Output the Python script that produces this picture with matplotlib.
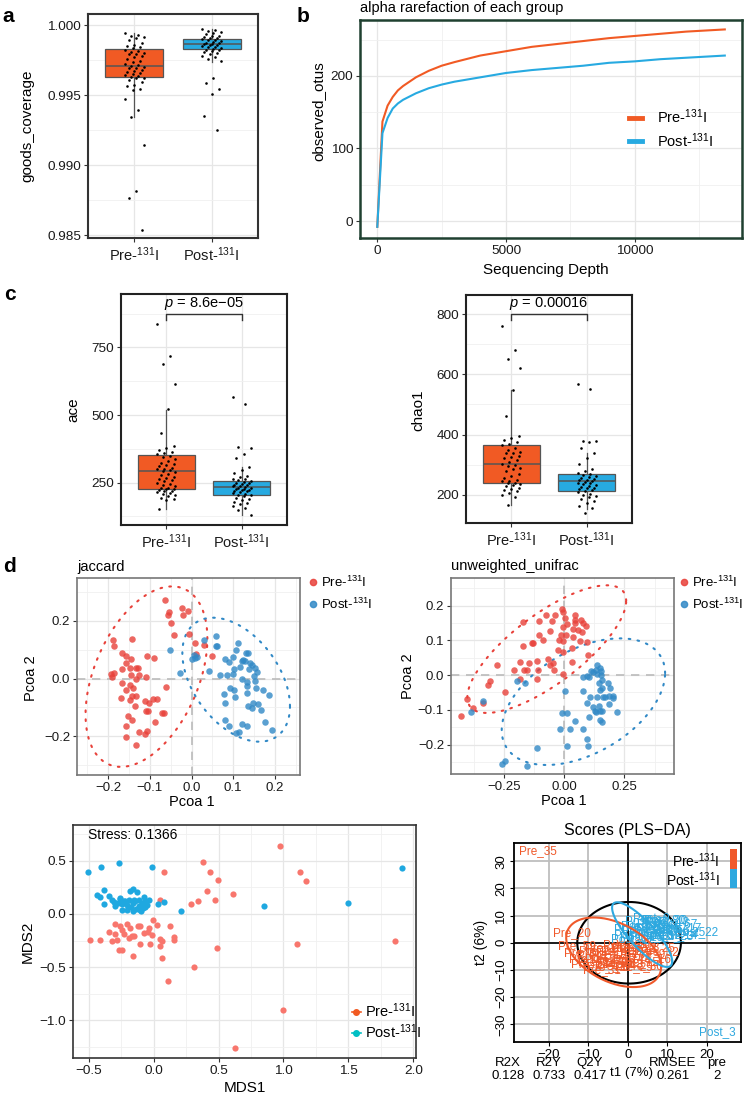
import numpy as np
import matplotlib.pyplot as plt
from matplotlib.lines import Line2D
from matplotlib.patches import Rectangle

W, H = 744, 1095

plt.rcParams["font.family"] = ["Liberation Sans", "DejaVu Sans"]
plt.rcParams["mathtext.fontset"] = "custom"
plt.rcParams["mathtext.rm"] = "Liberation Sans"
plt.rcParams["mathtext.it"] = "Liberation Sans:italic"
plt.rcParams["mathtext.bf"] = "Liberation Sans:bold"

PRE = r"Pre-$^{131}$I"
POST = r"Post-$^{131}$I"

ORANGE = "#F15A24"
BLUE = "#27AAE1"

# ---------------- panel a: goods coverage ----------------
# box stats: q1, median, q3, lower whisker, upper whisker
GOODS_BOX_PRE = [0.99629, 0.99705, 0.99831, 0.99345, 0.99940]
GOODS_BOX_POST = [0.99826, 0.99862, 0.99898, 0.99738, 0.99975]
GOODS_PRE = [0.99940, 0.99930, 0.99925, 0.99915, 0.99905, 0.99890, 0.99875, 0.99860,
             0.99850, 0.99845, 0.99835, 0.99825, 0.99815, 0.99810, 0.99800, 0.99795,
             0.99790, 0.99780, 0.99770, 0.99760, 0.99745, 0.99735, 0.99725, 0.99715,
             0.99705, 0.99700, 0.99695, 0.99690, 0.99680, 0.99670, 0.99665, 0.99660,
             0.99650, 0.99640, 0.99635, 0.99630, 0.99625, 0.99620, 0.99610, 0.99595,
             0.99570, 0.99565, 0.99540, 0.99535, 0.99475, 0.99395, 0.99345, 0.99140,
             0.98815, 0.98765, 0.98535]
GOODS_POST = [0.99975, 0.99965, 0.99955, 0.99950, 0.99940, 0.99935, 0.99925, 0.99920,
              0.99915, 0.99910, 0.99905, 0.99900, 0.99895, 0.99890, 0.99885, 0.99880,
              0.99875, 0.99870, 0.99865, 0.99862, 0.99860, 0.99855, 0.99850, 0.99845,
              0.99840, 0.99835, 0.99830, 0.99825, 0.99820, 0.99815, 0.99810, 0.99800,
              0.99790, 0.99780, 0.99770, 0.99760, 0.99745, 0.99625, 0.99585, 0.99540,
              0.99505, 0.99350, 0.99250]

# ---------------- panel b: rarefaction ----------------
DEPTH = [0, 200, 400, 600, 800, 1000, 1500, 2000, 2500, 3000, 4000, 5000, 6000, 7000,
         8000, 9000, 10000, 11000, 12000, 13500]
OTUS_PRE = [-8, 137, 159, 171, 180, 186, 198, 207, 214, 219, 228, 234, 240, 244,
            248, 252, 255, 258, 261, 264]
OTUS_POST = [-8, 121, 142, 155, 162, 167, 176, 183, 188, 192, 198, 204, 208, 211,
             214, 218, 220, 223, 225, 228]

# ---------------- panel c: ace / chao1 ----------------
ACE_BOX_PRE = [226.7, 294, 351.4, 151.5, 519]
ACE_BOX_POST = [204.4, 233, 255, 130, 309]
ACE_PRE = [838, 720, 690, 615, 522, 433, 386, 378, 370, 365, 361, 356, 350, 345, 338,
           330, 322, 318, 315, 310, 305, 302, 300, 296, 292, 288, 283, 278, 272, 266,
           262, 260, 255, 250, 245, 240, 236, 232, 230, 228, 225, 222, 220, 218, 215,
           212, 208, 204, 199, 193, 190, 186, 152]
ACE_POST = [566, 542, 381, 378, 356, 342, 309, 298, 285, 275, 270, 265, 262, 258, 255,
            252, 250, 247, 245, 242, 240, 238, 236, 234, 232, 230, 228, 226, 224, 222,
            220, 218, 215, 212, 209, 206, 203, 199, 195, 190, 185, 180, 175, 170, 164,
            155, 148, 130]
ACE_P = "8.6e\u221205"

CHAO_BOX_PRE = [239, 303, 364.5, 164.5, 547]
CHAO_BOX_POST = [214, 244, 269, 152.5, 339]
CHAO_PRE = [762, 682, 650, 620, 548, 462, 394, 388, 382, 376, 370, 364, 356, 348, 342,
            340, 338, 330, 325, 322, 315, 308, 302, 300, 296, 290, 285, 278, 270, 262,
            255, 248, 245, 244, 240, 238, 236, 232, 228, 224, 220, 216, 212, 207, 200,
            194, 165]
CHAO_POST = [568, 551, 380, 379, 375, 355, 340, 322, 302, 285, 278, 272, 268, 265, 262,
             258, 255, 252, 250, 248, 245, 243, 240, 238, 236, 233, 230, 227, 224, 221,
             218, 215, 212, 208, 204, 200, 196, 192, 186, 180, 172, 163, 156, 139]
CHAO_P = "0.00016"

# ---------------- panel d: jaccard PCoA ----------------
JAC_PRE_X = [-0.064, -0.024, -0.054, -0.056, -0.020, -0.008, -0.048, -0.042, -0.006, -0.188,
             -0.142, 0.008, 0.030, 0.010, 0.048, -0.186, -0.166, -0.158, -0.144, -0.106,
             -0.090, -0.156, -0.166, -0.148, -0.132, -0.128, -0.192, -0.186, -0.190, -0.146,
             -0.126, -0.108, -0.132, -0.167, -0.148, -0.158, -0.140, -0.062, -0.168, -0.142,
             -0.134, -0.148, -0.136, -0.112, -0.092, -0.082, -0.102, -0.108, -0.104, -0.070,
             -0.066, -0.152, -0.142, -0.088, -0.156, -0.126, -0.106, -0.112, -0.156, -0.132]
JAC_PRE_Y = [0.270, 0.244, 0.228, 0.221, 0.218, 0.233, 0.192, 0.149, 0.155, 0.134,
             0.136, 0.121, 0.115, 0.084, 0.077, 0.113, 0.089, 0.077, 0.069, 0.079,
             0.070, 0.054, 0.034, 0.038, 0.038, 0.038, 0.014, 0.020, 0.006, 0.011,
             0.011, 0.006, -0.003, -0.015, -0.021, -0.038, -0.032, -0.029, -0.066, -0.061,
             -0.059, -0.075, -0.095, -0.077, -0.069, -0.069, -0.084, -0.113, -0.113, -0.118,
             -0.118, -0.130, -0.144, -0.149, -0.164, -0.184, -0.180, -0.192, -0.203, -0.230]
JAC_POST_X = [-0.052, -0.028, 0.002, 0.006, 0.012, 0.008, 0.030, 0.042, 0.058, 0.058,
              0.060, 0.068, 0.081, 0.090, 0.100, 0.102, 0.111, 0.106, 0.086, 0.100,
              0.116, 0.120, 0.124, 0.128, 0.130, 0.136, 0.140, 0.138, 0.146, 0.152,
              0.156, 0.150, 0.121, 0.132, 0.134, 0.152, 0.154, 0.172, 0.186, 0.092,
              0.102, 0.078, 0.104, 0.134, 0.080, 0.136, 0.148, 0.159, 0.166, 0.146,
              0.080, 0.090, 0.122, 0.134, 0.114, 0.176, 0.192, 0.106]
JAC_POST_Y = [0.100, 0.020, 0.067, 0.080, 0.075, 0.072, 0.132, 0.025, 0.146, 0.113,
              0.113, 0.011, 0.066, 0.057, 0.075, 0.034, 0.121, 0.098, 0.011, 0.014,
              0.040, 0.060, 0.063, 0.060, 0.089, 0.089, 0.052, 0.034, 0.046, 0.038,
              0.023, 0.008, -0.002, -0.011, -0.026, -0.009, -0.032, -0.038, -0.057, -0.034,
              -0.038, -0.054, -0.063, -0.049, -0.084, -0.095, -0.086, -0.089, -0.107, -0.103,
              -0.144, -0.164, -0.157, -0.164, -0.184, -0.149, -0.176, -0.187]
# ellipse: centre x, centre y, half-width, half-height, correlation
JAC_ELL_PRE = [-0.108, 0.0065, 0.146, 0.3115, 0.42]
JAC_ELL_POST = [0.107, -0.004, 0.129, 0.214, -0.43]

# ---------------- panel d: unweighted unifrac PCoA ----------------
UNI_PRE_X = [-0.011, -0.039, -0.007, 0.003, -0.076, -0.053, 0.044, 0.042, 0.068, 0.044,
             0.079, 0.090, 0.058, 0.063, 0.035, -0.007, -0.014, 0.007, -0.021, -0.007,
             0.035, 0.072, 0.010, -0.174, -0.136, -0.132, -0.104, -0.106, -0.060, -0.174,
             -0.088, -0.007, -0.028, 0.096, 0.099, 0.033, -0.067, -0.060, -0.049, -0.042,
             0.031, -0.113, -0.146, -0.111, -0.115, -0.185, -0.168, -0.156, -0.211, -0.282,
             -0.310, -0.317, -0.247, -0.404, -0.382, -0.432, -0.338, -0.185, -0.008]
UNI_PRE_Y = [0.192, 0.173, 0.183, 0.165, 0.173, 0.157, 0.173, 0.149, 0.159, 0.159,
             0.151, 0.141, 0.130, 0.099, 0.132, 0.139, 0.115, 0.115, 0.101, 0.098,
             0.110, 0.125, 0.147, 0.154, 0.093, 0.094, 0.157, 0.115, 0.128, 0.085,
             0.101, 0.067, 0.072, 0.096, 0.058, 0.077, 0.046, 0.029, 0.036, 0.016,
             0.038, 0.041, 0.034, 0.016, -0.012, 0.038, 0.016, 0.016, 0.016, 0.029,
             -0.016, -0.029, -0.049, -0.068, -0.096, -0.117, -0.080, -0.012, 0.003]
UNI_POST_X = [0.1375, 0.149, 0.132, 0.121, 0.110, 0.151, 0.135, 0.093, 0.103, 0.156,
              0.181, 0.142, 0.156, 0.190, 0.149, 0.169, 0.185, 0.201, 0.204, 0.1875,
              0.160, 0.135, 0.107, 0.093, 0.121, 0.143, 0.156, 0.132, 0.149, 0.218,
              0.104, 0.128, 0.146, 0.157, 0.079, 0.003, -0.011, 0.0125, 0.042, -0.018,
              0.024, 0.079, 0.093, 0.100, 0.010, -0.1125, -0.157, -0.247, -0.261, -0.389,
              -0.340, -0.196, -0.164, 0.076, 0.151]
UNI_POST_Y = [0.029, 0.022, 0.016, 0.010, 0.012, 0.000, 0.003, -0.002, -0.005, -0.014,
              -0.022, -0.024, -0.036, -0.038, -0.043, -0.062, -0.061, -0.061, -0.067, -0.084,
              -0.064, -0.064, -0.062, -0.080, -0.091, -0.089, -0.104, -0.106, -0.104, -0.106,
              -0.122, -0.104, -0.128, -0.134, -0.045, -0.045, -0.110, -0.110, -0.132, -0.154,
              -0.154, -0.154, -0.185, -0.205, -0.205, -0.209, -0.262, -0.248, -0.255, -0.106,
              -0.074, -0.016, -0.022, -0.005, 0.012]
UNI_ELL_PRE = [-0.0735, 0.075, 0.3305, 0.184, 0.755]
UNI_ELL_POST = [0.079, -0.0765, 0.340, 0.1825, 0.45]

# ---------------- NMDS ----------------
NMDS_POST_X = [-0.505, -0.403, -0.269, -0.013, -0.436, -0.415, -0.385, -0.385, -0.346, -0.321,
               -0.308, -0.295, -0.277, -0.262, -0.244, -0.231, -0.241, -0.218, -0.205, -0.192,
               -0.179, -0.174, -0.159, -0.159, -0.159, -0.141, -0.133, -0.128, -0.115, -0.113,
               -0.103, -0.090, -0.082, -0.077, -0.064, -0.064, -0.038, -0.051, -0.095, -0.154,
               -0.205, -0.256, 0.038, 0.082, 0.213, 0.851, 1.500, 1.910]
NMDS_POST_Y = [0.392, 0.445, 0.479, 0.439, 0.182, 0.160, 0.222, 0.097, 0.172, 0.135,
               0.110, 0.078, 0.103, 0.147, 0.097, 0.119, 0.041, 0.125, 0.088, 0.135,
               0.213, 0.066, 0.235, 0.103, 0.025, 0.119, 0.047, 0.204, 0.135, 0.078,
               0.034, 0.103, 0.056, 0.160, 0.119, 0.066, 0.135, 0.088, 0.025, 0.135,
               0.041, 0.141, 0.094, 0.116, 0.025, 0.072, 0.103, 0.432]
NMDS_PRE_X = [0.077, 0.377, 0.433, 0.497, 0.413, 0.472, 0.610, 0.290, 0.344, 0.046,
              0.977, 1.126, 1.172, 1.862, 1.105, 0.487, 0.315, -0.295, -0.256, -0.244,
              -0.205, -0.179, -0.167, -0.295, -0.346, -0.410, -0.487, -0.321, -0.269, -0.244,
              -0.282, -0.154, -0.103, -0.108, -0.026, -0.038, -0.005, 0.026, 0.046, 0.051,
              0.064, 0.123, 0.154, 0.159, 0.062, -0.159, -0.226, -0.192, -0.046, -0.013,
              -0.077, -0.123, 0.115, 1.000, 0.628]
NMDS_PRE_Y = [0.395, 0.489, 0.395, 0.320, 0.216, 0.128, 0.185, 0.094, 0.119, 0.128,
              0.642, 0.395, 0.310, -0.251, -0.282, -0.316, -0.501, -0.094, -0.116, -0.147,
              -0.094, -0.132, -0.204, -0.185, -0.169, -0.247, -0.244, -0.257, -0.335, -0.341,
              -0.247, -0.210, -0.110, -0.282, -0.282, -0.132, -0.060, -0.100, -0.235, -0.298,
              -0.257, -0.110, -0.216, -0.247, -0.414, -0.392, -0.185, -0.226, -0.172, -0.194,
              -0.179, -0.110, -0.633, -0.900, -1.260]
NMDS_STRESS = "0.1366"

# ---------------- PLS-DA ----------------
PLS_PRE_NAMES = ["Pre_35", "Pre_20", "Pre_59", "Pre_33", "Pre_43", "Pre_1", "Pre_2", "Pre_4",
                 "Pre_5", "Pre_6", "Pre_7", "Pre_8", "Pre_9", "Pre_10", "Pre_11", "Pre_12",
                 "Pre_13", "Pre_14", "Pre_15", "Pre_16", "Pre_17", "Pre_18", "Pre_19", "Pre_21",
                 "Pre_22", "Pre_23", "Pre_24", "Pre_25", "Pre_26", "Pre_27", "Pre_28", "Pre_29",
                 "Pre_30", "Pre_31", "Pre_32"]
PLS_PRE_T1 = [-22.8, -14.2, -12.8, -11.5, -5.5, -9.0, -7.0, -4.0, -2.0, 0.0, 2.0, 4.0, 5.5,
              -6.0, -8.0, -3.0, -1.0, 1.0, 3.0, 6.0, -10.0, -5.0, -2.0, 0.5, 2.5, -4.5, -7.5,
              7.0, -1.5, -3.5, -9.5, 1.5, 4.0, -6.5, 8.0]
PLS_PRE_T2 = [33.6, 3.4, -1.2, -3.9, -9.0, -4.5, -6.0, -3.0, -5.5, -2.0, -4.0, -1.5, -4.0,
              -2.0, -7.0, -7.5, -8.0, -6.5, -7.0, -6.0, -6.0, -4.5, -3.0, -0.5, -2.0, -6.5,
              -3.0, -2.0, -1.0, -8.5, -8.0, -9.0, -8.5, -10.0, -3.5]
PLS_POST_NAMES = ["Post_3", "Post_22", "Post_80", "Post_67", "Post_1", "Post_2", "Post_4",
                  "Post_5", "Post_6", "Post_8", "Post_9", "Post_10", "Post_11", "Post_12",
                  "Post_13", "Post_14", "Post_15", "Post_16", "Post_17", "Post_18", "Post_19",
                  "Post_20", "Post_21", "Post_23", "Post_24", "Post_25"]
PLS_POST_T1 = [22.7, 17.4, 9.0, 12.0, 3.0, 5.0, 7.0, 9.0, 11.0, 4.0, 6.0, 2.0, 1.0, 8.0,
               10.0, 12.0, 3.5, 6.0, 13.0, 5.0, 7.5, 9.5, 2.0, 11.0, 4.0, 14.0]
PLS_POST_T2 = [-32.8, 3.8, 8.5, 6.8, 6.0, 4.0, 7.0, 5.5, 4.5, 8.0, 9.0, 3.0, 1.5, 3.0,
               7.5, 3.0, 2.0, 2.5, 5.5, 6.0, 5.0, 8.5, 5.0, 2.5, 4.5, 4.0]
PLS_ELL_ALL = [0.3, 0.0, 13.1, 15.0, 0.0]
PLS_ELL_PRE = [-3.6, -3.5, 12.0, 12.8, -0.42]
PLS_ELL_POST = [3.6, 3.0, 7.6, 11.9, -0.83]
PLS_METRIC_NAMES = ["R2X", "R2Y", "Q2Y", "RMSEE", "pre"]
PLS_METRIC_VALUES = ["0.128", "0.733", "0.417", "0.261", "2"]
PLS_T1_LABEL = "t1 (7%)"
PLS_T2_LABEL = "t2 (6%)"

fig = plt.figure(figsize=(W / 100, H / 100), dpi=100)


def px_axes(l, t, r, b):
    return fig.add_axes([l / W, 1 - b / H, (r - l) / W, (b - t) / H])


def ftext(x, y, s, **kw):
    kw.setdefault("ha", "center")
    kw.setdefault("va", "center")
    fig.text(x / W, 1 - y / H, s, **kw)


def gg_style(ax, edge="#333333", lw=1.2, size=9.7):
    ax.set_facecolor("white")
    for s in ax.spines.values():
        s.set_color(edge)
        s.set_linewidth(lw)
    ax.grid(True, which="major", color="#E6E6E6", lw=0.9)
    ax.grid(True, which="minor", color="#F0F0F0", lw=0.6)
    ax.set_axisbelow(True)
    ax.tick_params(which="major", length=3, width=0.8, color="#333333",
                   labelsize=size, labelcolor="#1a1a1a", pad=2)
    ax.tick_params(which="minor", length=0)


def jitter(n, width=0.12):
    k = np.arange(n)
    return ((k * 7) % 11 - 5) / 5 * width


def box_panel(ax, boxes, groups):
    stats = [dict(q1=b[0], med=b[1], q3=b[2], whislo=b[3], whishi=b[4], label="")
             for b in boxes]
    res = ax.bxp(stats, positions=[1, 2], widths=0.75, patch_artist=True,
                 showfliers=False, showcaps=False,
                 boxprops=dict(lw=0.9, edgecolor="#555555"),
                 medianprops=dict(color="#555555", lw=1.1),
                 whiskerprops=dict(color="#555555", lw=0.9))
    for patch, c in zip(res["boxes"], [ORANGE, BLUE]):
        patch.set_facecolor(c)
    for i, vals in enumerate(groups):
        ax.scatter(1 + i + jitter(len(vals)), vals, s=3.5, color="black", zorder=5, lw=0)
    ax.set_xlim(0.4, 2.6)
    ax.set_xticks([1, 2])
    ax.set_xticks([], minor=True)
    ax.set_xticklabels([PRE, POST], fontsize=10.5)


def ellipse(ax, params, color, **kw):
    cx, cy, rx, ry, rho = params
    t = np.linspace(0, 2 * np.pi, 200)
    x = cx + rx * np.cos(t)
    y = cy + ry * (rho * np.cos(t) + np.sqrt(1 - rho ** 2) * np.sin(t))
    ax.plot(x, y, color=color, **kw)


# ---------------- a ----------------
ax = px_axes(88, 14, 258, 238)
gg_style(ax, lw=1.5)
box_panel(ax, [GOODS_BOX_PRE, GOODS_BOX_POST], [GOODS_PRE, GOODS_POST])
ax.set_ylim(0.98479, 1.00079)
ax.set_yticks([0.985, 0.990, 0.995, 1.000])
ax.set_yticks([0.9875, 0.9925, 0.9975], minor=True)
ax.set_yticklabels(["0.985", "0.990", "0.995", "1.000"])
ftext(27, 126, "goods_coverage", rotation=90, fontsize=11)
ftext(8, 16, "a", fontsize=15, fontweight="bold")

# ---------------- b ----------------
ax = px_axes(360, 20, 742, 238)
gg_style(ax, edge="#1F4030", lw=1.8)
ax.plot(DEPTH, OTUS_PRE, color=ORANGE, lw=1.5, label=PRE)
ax.plot(DEPTH, OTUS_POST, color=BLUE, lw=1.5, label=POST)
ax.set_xlim(-672, 14168)
ax.set_ylim(-23.4, 277)
ax.set_xticks([0, 5000, 10000])
ax.set_xticks([2500, 7500, 12500], minor=True)
ax.set_yticks([0, 100, 200])
ax.set_yticks([50, 150, 250], minor=True)
leg = ax.legend(loc="upper left", bbox_to_anchor=(0.67, 0.66), frameon=False,
                fontsize=10.5, handlelength=0.9, handletextpad=1.0, labelspacing=0.35)
for h in leg.get_lines():
    h.set_linewidth(3.5)
ftext(360, 8, "alpha rarefaction of each group", ha="left", fontsize=10.5)
ftext(318, 111, "observed_otus", rotation=90, fontsize=11)
ftext(546, 270, "Sequencing Depth", fontsize=11)
ftext(303, 16, "b", fontsize=15, fontweight="bold")

# ---------------- c: ace ----------------
ax = px_axes(121, 294, 287, 525)
gg_style(ax, edge="#222222", lw=1.5)
box_panel(ax, [ACE_BOX_PRE, ACE_BOX_POST], [ACE_PRE, ACE_POST])
ax.set_ylim(93.3, 947.8)
ax.set_yticks([250, 500, 750])
ax.set_yticks([125, 375, 625, 875], minor=True)
ax.plot([1, 1, 2, 2], [852, 874, 874, 852], color="#333333", lw=1.0)
ax.text(1.5, 880, r"$p$ = " + ACE_P, ha="center", va="bottom", fontsize=10.5)
ftext(73, 410, "ace", rotation=90, fontsize=11)
ftext(10, 295, "c", fontsize=15, fontweight="bold")

# ---------------- c: chao1 ----------------
ax = px_axes(466, 295, 632, 523)
gg_style(ax, edge="#222222", lw=1.5)
box_panel(ax, [CHAO_BOX_PRE, CHAO_BOX_POST], [CHAO_PRE, CHAO_POST])
ax.set_ylim(106, 864)
ax.set_yticks([200, 400, 600, 800])
ax.set_yticks([300, 500, 700], minor=True)
ax.plot([1, 1, 2, 2], [781, 800, 800, 781], color="#333333", lw=1.0)
ax.text(1.5, 806, r"$p$ = " + CHAO_P, ha="center", va="bottom", fontsize=10.5)
ftext(418, 410, "chao1", rotation=90, fontsize=11)

# ---------------- d: jaccard ----------------
RED_D = "#E8413A"
BLUE_D = "#3189C6"
ax = px_axes(77, 578, 300, 775)
gg_style(ax, edge="#777777", lw=1.2, size=9.5)
ax.axhline(0, color="#BBBBBB", lw=1.2, ls=(0, (5, 4)), zorder=1)
ax.axvline(0, color="#BBBBBB", lw=1.2, ls=(0, (5, 4)), zorder=1)
ax.scatter(JAC_PRE_X, JAC_PRE_Y, s=22, color=RED_D, alpha=0.8, lw=0, zorder=3)
ax.scatter(JAC_POST_X, JAC_POST_Y, s=22, color=BLUE_D, alpha=0.8, lw=0, zorder=3)
ellipse(ax, JAC_ELL_PRE, RED_D, lw=1.5, ls=(0, (0.8, 3.5)), dash_capstyle="round")
ellipse(ax, JAC_ELL_POST, BLUE_D, lw=1.5, ls=(0, (0.8, 3.5)), dash_capstyle="round")
ax.set_xlim(-0.2745, 0.26)
ax.set_ylim(-0.333, 0.347)
ax.set_xticks([-0.2, -0.1, 0.0, 0.1, 0.2])
ax.set_xticks([-0.25, -0.15, -0.05, 0.05, 0.15, 0.25], minor=True)
ax.set_xticklabels(["\u22120.2", "\u22120.1", "0.0", "0.1", "0.2"])
ax.set_yticks([-0.2, 0.0, 0.2])
ax.set_yticks([-0.3, -0.1, 0.1, 0.3], minor=True)
ax.set_yticklabels(["\u22120.2", "0.0", "0.2"])
hd = [Line2D([], [], ls="", marker="o", ms=4.5, color=RED_D, alpha=0.85),
      Line2D([], [], ls="", marker="o", ms=4.5, color=BLUE_D, alpha=0.85)]
ax.legend(hd, [PRE, POST], loc="upper left", bbox_to_anchor=(1.03, 1.03), frameon=False,
          fontsize=9.5, handlelength=0.5, handletextpad=0.35, labelspacing=0.5,
          borderaxespad=0.0, borderpad=0.2)
ftext(77, 567, "jaccard", ha="left", fontsize=10.5)
ftext(192, 802, "Pcoa 1", fontsize=10.5)
ftext(31, 678, "Pcoa 2", rotation=90, fontsize=10.5)
ftext(10, 567, "d", fontsize=15, fontweight="bold")

# ---------------- d: unweighted unifrac ----------------
ax = px_axes(451, 578, 674, 774)
gg_style(ax, edge="#777777", lw=1.2, size=9.5)
ax.axhline(0, color="#BBBBBB", lw=1.2, ls=(0, (5, 4)), zorder=1)
ax.axvline(0, color="#BBBBBB", lw=1.2, ls=(0, (5, 4)), zorder=1)
ax.scatter(UNI_PRE_X, UNI_PRE_Y, s=22, color=RED_D, alpha=0.8, lw=0, zorder=3)
ax.scatter(UNI_POST_X, UNI_POST_Y, s=22, color=BLUE_D, alpha=0.8, lw=0, zorder=3)
ellipse(ax, UNI_ELL_PRE, RED_D, lw=1.5, ls=(0, (0.8, 3.5)), dash_capstyle="round")
ellipse(ax, UNI_ELL_POST, BLUE_D, lw=1.5, ls=(0, (0.8, 3.5)), dash_capstyle="round")
ax.set_xlim(-0.472, 0.456)
ax.set_ylim(-0.285, 0.280)
ax.set_xticks([-0.25, 0.0, 0.25])
ax.set_xticks([-0.375, -0.125, 0.125, 0.375], minor=True)
ax.set_xticklabels(["\u22120.25", "0.00", "0.25"])
ax.set_yticks([-0.2, -0.1, 0.0, 0.1, 0.2])
ax.set_yticks([-0.25, -0.15, -0.05, 0.05, 0.15, 0.25], minor=True)
ax.set_yticklabels(["\u22120.2", "\u22120.1", "0.0", "0.1", "0.2"])
ax.legend(hd, [PRE, POST], loc="upper left", bbox_to_anchor=(1.02, 1.03), frameon=False,
          fontsize=9.5, handlelength=0.5, handletextpad=0.35, labelspacing=0.5,
          borderaxespad=0.0, borderpad=0.2)
ftext(451, 566, "unweighted_unifrac", ha="left", fontsize=10.5)
ftext(564, 801, "Pcoa 1", fontsize=10.5)
ftext(408, 676, "Pcoa 2", rotation=90, fontsize=10.5)

# ---------------- NMDS ----------------
ax = px_axes(73, 825, 416, 1058)
gg_style(ax, edge="#333333", lw=1.2, size=9.7)
ax.scatter(NMDS_PRE_X, NMDS_PRE_Y, s=20, color="#F8766D", lw=0, zorder=3)
ax.scatter(NMDS_POST_X, NMDS_POST_Y, s=20, color="#1FA8E0", lw=0, zorder=3)
ax.set_xlim(-0.62, 2.02)
ax.set_ylim(-1.353, 0.836)
ax.set_xticks([-0.5, 0.0, 0.5, 1.0, 1.5, 2.0])
ax.set_xticks([-0.25, 0.25, 0.75, 1.25, 1.75], minor=True)
ax.set_xticklabels(["\u22120.5", "0.0", "0.5", "1.0", "1.5", "2.0"])
ax.set_yticks([-1.0, -0.5, 0.0, 0.5])
ax.set_yticks([-1.25, -0.75, -0.25, 0.25, 0.75], minor=True)
ax.set_yticklabels(["\u22121.0", "\u22120.5", "0.0", "0.5"])
ax.text(0.045, 0.955, "Stress: " + NMDS_STRESS, transform=ax.transAxes, ha="left",
        va="center", fontsize=10)
hn = [Line2D([], [], color="#F15A22", marker="o", ms=4, lw=1.2),
      Line2D([], [], color="#00BFC4", marker="o", ms=4, lw=1.2)]
ax.legend(hn, [PRE, POST], loc="lower left", bbox_to_anchor=(0.775, 0.015), frameon=False,
          fontsize=10.5, handlelength=0.6, handletextpad=0.3, labelspacing=0.2)
ftext(245, 1088, "MDS1", fontsize=11)
ftext(28, 942, "MDS2", rotation=90, fontsize=11)

# ---------------- PLS-DA ----------------
PLS_OR = "#F0592A"
PLS_BL = "#2EA8DF"
ax = px_axes(514, 843, 741, 1042)
for s in ax.spines.values():
    s.set_color("black")
    s.set_linewidth(1.3)
ax.set_xlim(-28.8, 28.6)
ax.set_ylim(-36.5, 36.7)
ax.set_xticks([-20, -10, 0, 10, 20])
ax.set_yticks([-30, -20, -10, 0, 10, 20, 30])
ax.set_xticklabels(["\u221220", "\u221210", "0", "10", "20"])
ax.set_yticklabels(["\u221230", "\u221220", "\u221210", "0", "10", "20", "30"],
                   rotation=90, va="center")
ax.tick_params(length=3, width=0.8, labelsize=9.5, pad=2)
ax.grid(True, color="#BEBEBE", lw=1.3)
ax.set_axisbelow(True)
ax.axhline(0, color="black", lw=1.2, zorder=1)
ax.axvline(0, color="black", lw=1.2, zorder=1)
ellipse(ax, PLS_ELL_ALL, "black", lw=1.5, zorder=2)
for nm, x, y in zip(PLS_PRE_NAMES, PLS_PRE_T1, PLS_PRE_T2):
    ax.text(x, y, nm, color=PLS_OR, fontsize=8.5, ha="center", va="center", clip_on=True,
            zorder=3)
for nm, x, y in zip(PLS_POST_NAMES, PLS_POST_T1, PLS_POST_T2):
    ax.text(x, y, nm, color=PLS_BL, fontsize=8.5, ha="center", va="center", clip_on=True,
            zorder=3)
ellipse(ax, PLS_ELL_PRE, PLS_OR, lw=1.5, zorder=4)
ellipse(ax, PLS_ELL_POST, PLS_BL, lw=1.5, zorder=4)
ax.add_patch(Rectangle((0.951, 0.871), 0.031, 0.099, transform=ax.transAxes,
                       color=PLS_OR, lw=0, zorder=5))
ax.add_patch(Rectangle((0.951, 0.772), 0.031, 0.099, transform=ax.transAxes,
                       color=PLS_BL, lw=0, zorder=5))
ax.text(0.905, 0.912, PRE, transform=ax.transAxes, ha="right", va="center", fontsize=10)
ax.text(0.905, 0.815, POST, transform=ax.transAxes, ha="right", va="center", fontsize=10)
ftext(627, 830, "Scores (PLS\u2212DA)", fontsize=11.5)
ftext(481, 942, PLS_T2_LABEL, rotation=90, fontsize=10)
ftext(631, 1073, PLS_T1_LABEL, fontsize=9.5)
for nm, val, x in zip(PLS_METRIC_NAMES, PLS_METRIC_VALUES, [508, 549, 590, 673, 717]):
    ftext(x, 1063, nm, fontsize=9.5)
    ftext(x, 1076, val, fontsize=9.5)

fig.savefig("out.png", dpi=100)
